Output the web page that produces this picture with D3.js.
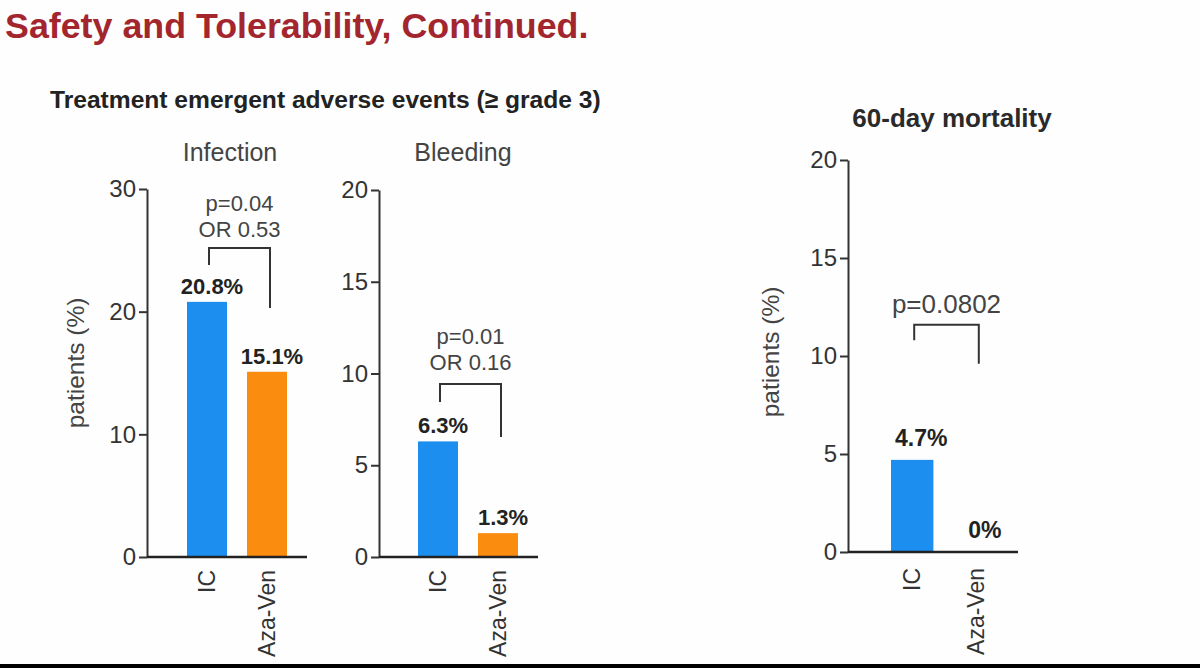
<!DOCTYPE html>
<html>
<head>
<meta charset="utf-8">
<script src="https://cdn.jsdelivr.net/npm/d3@7"></script>
<style>
  html, body { margin: 0; padding: 0; background: #fdfefd; }
  svg { display: block; }
  text { font-family: "Liberation Sans", Arial, sans-serif; }
</style>
</head>
<body>
<svg id="chart" width="1200" height="668"></svg>
<script>
// ---------------- DATA ----------------
const categories = ["IC", "Aza-Ven"];
const infectionValues = [20.8, 15.1];
const bleedingValues = [6.3, 1.3];
const mortalityValues = [4.7, 0];
const infectionTicks = [0, 10, 20, 30];
const bleedingTicks = [0, 5, 10, 15, 20];
const mortalityTicks = [0, 5, 10, 15, 20];
const infectionStats = ["p=0.04", "OR 0.53"];
const bleedingStats = ["p=0.01", "OR 0.16"];
const mortalityStats = ["p=0.0802"];
// bracket [top, left leg end, right leg end] in data units (%)
const infectionBracket = [25.2, 23.8, 20.3];
const bleedingBracket = [9.43, 8.45, 6.54];
const mortalityBracket = [11.6, 10.8, 9.6];
const barColors = ["#1c8ef0", "#fa8c10"];

// ---------------- LAYOUT ----------------
const svg = d3.select("#chart");
svg.append("rect").attr("width", 1200).attr("height", 668).attr("fill", "#fdfefd");

svg.append("text").attr("x", 5).attr("y", 38)
  .attr("font-size", 35.8).attr("font-weight", "bold").attr("fill", "#a3262e")
  .text("Safety and Tolerability, Continued.");

svg.append("text").attr("x", 50).attr("y", 108)
  .attr("font-size", 24.6).attr("font-weight", "bold").attr("fill", "#222")
  .text("Treatment emergent adverse events (\u2265 grade 3)");

svg.append("text").attr("x", 952).attr("y", 127).attr("text-anchor", "middle")
  .attr("font-size", 26).attr("font-weight", "bold").attr("fill", "#2a2a2a")
  .text("60-day mortality");

const panels = [
  { values: infectionValues, ticks: infectionTicks, stats: infectionStats, bracket: infectionBracket,
    axisX: 147, axisEnd: 307, y0: 557, yTop: 189, band: [187, 287],
    title: "Infection", titleX: 230, titleY: 161,
    labelGap: 8, labelDx: 5, statGap: 11, tickFont: 24, valFont: 22, statFont: 22 },
  { values: bleedingValues, ticks: bleedingTicks, stats: bleedingStats, bracket: bleedingBracket,
    axisX: 379, axisEnd: 538, y0: 557, yTop: 190, band: [418, 518],
    title: "Bleeding", titleX: 463, titleY: 161,
    labelGap: 8, labelDx: 5, statGap: 14, tickFont: 24, valFont: 22, statFont: 22 },
  { values: mortalityValues, ticks: mortalityTicks, stats: mortalityStats, bracket: mortalityBracket,
    axisX: 848, axisEnd: 1018, y0: 552, yTop: 160, band: [891, 997],
    title: null,
    labelGap: 14, labelDx: 9, statGap: 12, tickFont: 24, valFont: 23, statFont: 26 }
];

panels.forEach(p => {
  const g = svg.append("g");
  const y = d3.scaleLinear().domain([0, d3.max(p.ticks)]).range([p.y0, p.yTop]);
  const x = d3.scaleBand().domain(categories).range(p.band).paddingInner(1/3).paddingOuter(0);

  // bars
  g.selectAll("rect.bar").data(p.values).join("rect")
    .attr("class", "bar")
    .attr("x", (d, i) => x(categories[i]))
    .attr("width", x.bandwidth())
    .attr("y", d => y(d))
    .attr("height", d => y(0) - y(d))
    .attr("fill", (d, i) => barColors[i]);

  // y axis
  const yAxis = d3.axisLeft(y).tickValues(p.ticks).tickSize(8).tickPadding(3).tickSizeOuter(0)
    .tickFormat(d3.format("d"));
  const ax = g.append("g").attr("transform", `translate(${p.axisX},0)`).call(yAxis);
  ax.select(".domain").attr("stroke", "#333").attr("stroke-width", 2);
  ax.selectAll(".tick line").attr("stroke", "#333").attr("stroke-width", 2);
  ax.selectAll(".tick text").attr("fill", "#333").attr("font-size", p.tickFont)
    .attr("font-family", "Liberation Sans, Arial, sans-serif");

  // baseline
  g.append("line").attr("x1", p.axisX).attr("x2", p.axisEnd)
    .attr("y1", y(0)).attr("y2", y(0)).attr("stroke", "#222").attr("stroke-width", 2.5);

  // value labels
  g.selectAll("text.val").data(p.values).join("text")
    .attr("class", "val")
    .attr("x", (d, i) => x(categories[i]) + x.bandwidth() / 2 + p.labelDx)
    .attr("y", d => y(d) - p.labelGap)
    .attr("text-anchor", "middle").attr("font-size", p.valFont).attr("font-weight", "bold")
    .attr("fill", "#222")
    .text(d => d + "%");

  // category labels (rotated)
  g.selectAll("text.cat").data(categories).join("text")
    .attr("class", "cat")
    .attr("transform", d => `translate(${x(d) + x.bandwidth() / 2},${Math.min(y(0) + 16, 570)}) rotate(-90)`)
    .attr("text-anchor", "end").attr("dy", "0.35em")
    .attr("font-size", 23).attr("fill", "#333")
    .text(d => d);

  // bracket
  const lx = x(categories[0]) + x.bandwidth() / 2 + 2;
  const rx = x(categories[1]) + x.bandwidth() / 2 + 3;
  const [bTop, bL, bR] = p.bracket;
  g.append("path")
    .attr("d", `M${lx},${y(bL)}V${y(bTop)}H${rx}V${y(bR)}`)
    .attr("fill", "none").attr("stroke", "#333").attr("stroke-width", 2);

  // stats text
  const cx = (lx + rx) / 2;
  const n = p.stats.length;
  p.stats.forEach((s, i) => {
    g.append("text").attr("x", cx)
      .attr("y", y(bTop) - p.statGap - (n - 1 - i) * 26)
      .attr("text-anchor", "middle").attr("font-size", p.statFont).attr("fill", "#444")
      .text(s);
  });

  // panel title
  if (p.title) {
    g.append("text").attr("x", p.titleX).attr("y", p.titleY).attr("text-anchor", "middle")
      .attr("font-size", 25).attr("fill", "#444").text(p.title);
  }
});

// y axis titles
[[75, 363], [770, 352]].forEach(([px, py]) => {
  svg.append("text").attr("transform", `translate(${px},${py}) rotate(-90)`)
    .attr("text-anchor", "middle").attr("dy", "0.35em")
    .attr("font-size", 24.5).attr("fill", "#444").text("patients (%)");
});

// bottom dark band
svg.append("rect").attr("x", 0).attr("y", 664).attr("width", 1200).attr("height", 4).attr("fill", "#000");
</script>
</body>
</html>
